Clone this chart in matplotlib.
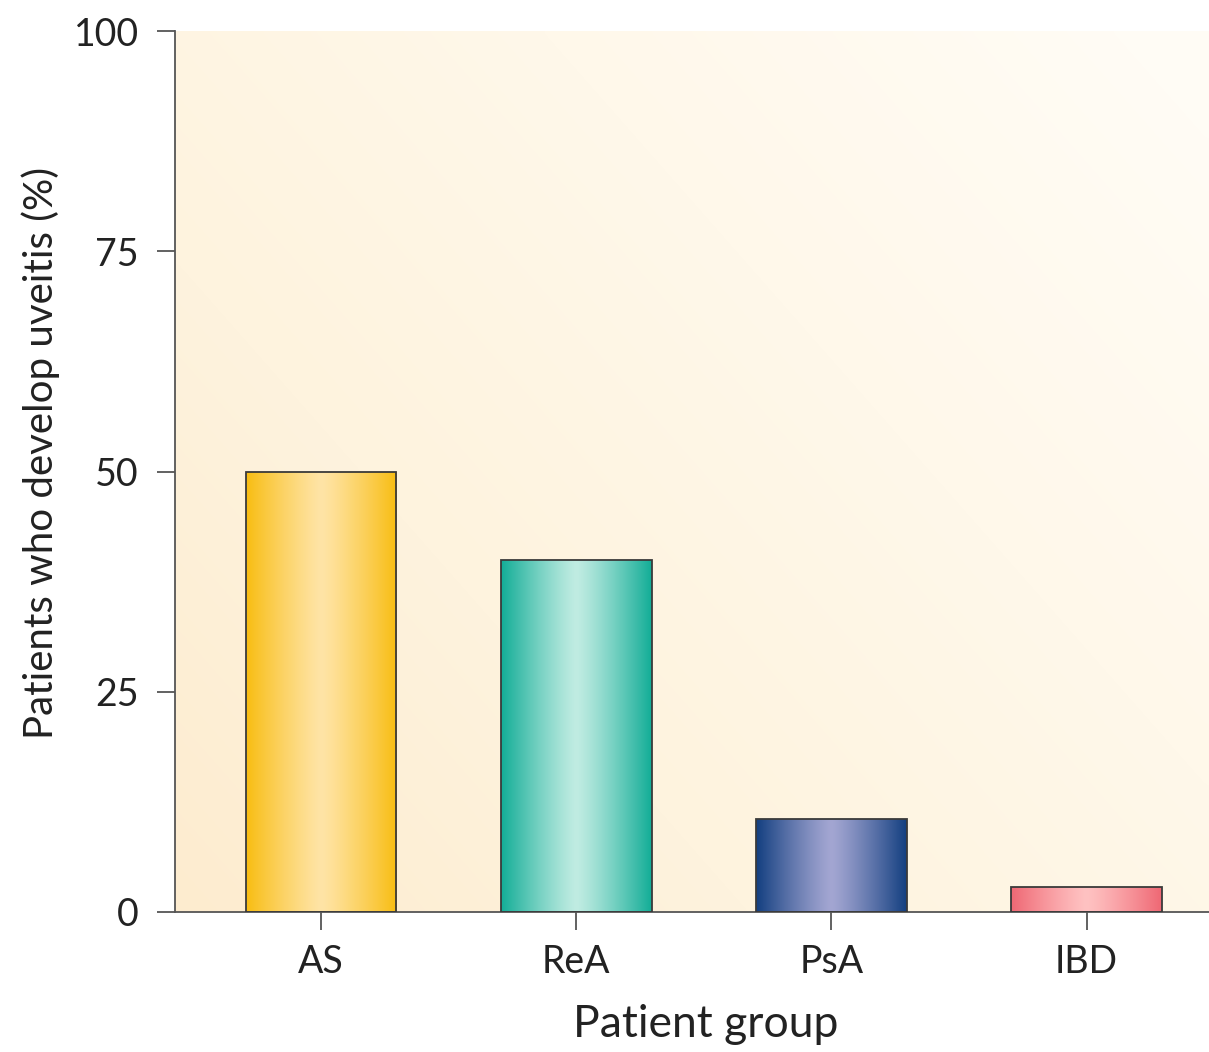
import numpy as np
import matplotlib
matplotlib.use('Agg')
import matplotlib.pyplot as plt
from matplotlib.colors import LinearSegmentedColormap

# data
groups = ['AS', 'ReA', 'PsA', 'IBD']
uveitis_pct = [50, 40, 10.5, 2.8]
yticks = [0, 25, 50, 75, 100]

# bar colours: (edge shade, centre highlight)
bar_shades = [
    ('#f8bd12', '#ffe4a6'),
    ('#13ad97', '#c0ece2'),
    ('#133f80', '#a3a6d2'),
    ('#ef6874', '#ffc2c2'),
]

plt.rcParams['font.family'] = ['Lato', 'DejaVu Sans']

fig = plt.figure(figsize=(12.09, 10.52), dpi=100)
ax = fig.add_axes([175 / 1209, 1 - 912 / 1052, 1 - 175 / 1209, (912 - 31) / 1052])

x = np.arange(len(groups))
ax.set_xlim(-0.573, 3.48)
ax.set_ylim(0, 100)

# background gradient, darker at lower left, lighter toward upper right
n = 200
gx, gy = np.meshgrid(np.linspace(0, 1, n), np.linspace(0, 1, n))
t = np.clip(0.6 * gx + 0.45 * gy, 0, 1)
bg_cmap = LinearSegmentedColormap.from_list('bg', ['#fdeccf', '#fef3de', '#fff8ea', '#fffcf5'])
ax.imshow(t, extent=(-0.573, 3.48, 0, 100), origin='lower', aspect='auto',
          cmap=bg_cmap, zorder=0, interpolation='bicubic')

bars = ax.bar(x, uveitis_pct, width=0.59, facecolor='none',
              edgecolor='#3a3a3a', linewidth=1.3, zorder=3)

prof = np.abs(np.linspace(-1, 1, 256)) ** 1.2
for patch, (dark, light) in zip(bars, bar_shades):
    cm = LinearSegmentedColormap.from_list('b', [light, dark])
    x0, y0 = patch.get_x(), patch.get_y()
    w, h = patch.get_width(), patch.get_height()
    im = ax.imshow(prof[np.newaxis, :], extent=(x0, x0 + w, y0, y0 + h),
                   aspect='auto', cmap=cm, zorder=2, interpolation='bicubic')
    im.set_clip_path(patch)

for s in ['top', 'right']:
    ax.spines[s].set_visible(False)
for s in ['left', 'bottom']:
    ax.spines[s].set_color('#555555')
    ax.spines[s].set_linewidth(1.3)

ax.set_yticks(yticks)
ax.set_xticks(x)
ax.set_xticklabels(groups)
ax.tick_params(axis='both', length=13, width=1.3, color='#555555',
               labelsize=27, labelcolor='#222222', pad=13)
ax.tick_params(axis='x', pad=10)

ax.set_ylabel('Patients who develop uveitis (%)', fontsize=29, color='#222222')
ax.set_xlabel('Patient group', fontsize=32, color='#222222')
ax.yaxis.set_label_coords(-0.111, 0.521)
ax.xaxis.set_label_coords(0.5135, -0.104)

fig.savefig('out.png', dpi=100)
